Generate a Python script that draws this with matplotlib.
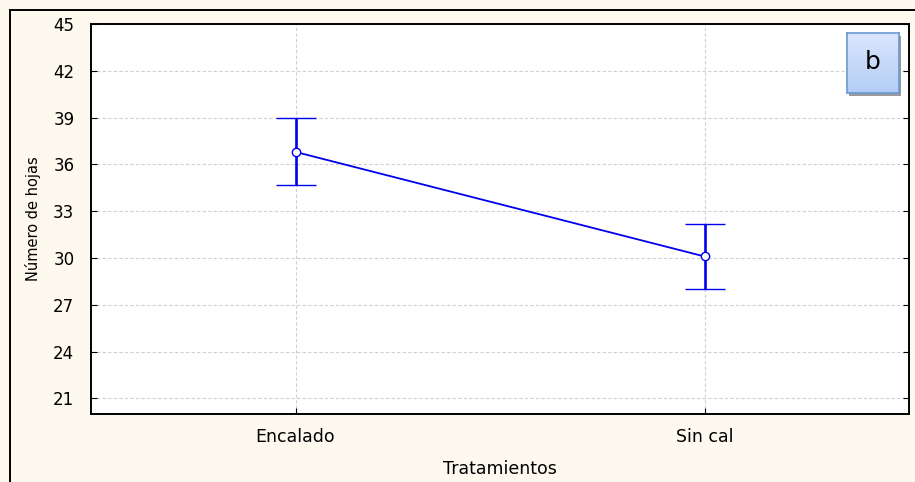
import numpy as np
import matplotlib.pyplot as plt
from matplotlib.patches import Rectangle
from matplotlib.colors import LinearSegmentedColormap

plt.rcParams['font.family'] = ['DejaVu Sans']

treatments = ["Encalado", "Sin cal"]
means = [36.8, 30.1]
upper = [38.95, 32.2]
lower = [34.7, 28.0]
yticks = [21, 24, 27, 30, 33, 36, 39, 42, 45]

x = np.arange(len(treatments))
err_low = [m - l for m, l in zip(means, lower)]
err_up = [u - m for m, u in zip(means, upper)]

fig = plt.figure(figsize=(9.15, 4.82), dpi=100)
fig.patch.set_facecolor("#fdf9ee")

# outer frame (only top and left edges visible in the picture)
fig.patches.append(Rectangle((10 / 915, -0.1), 1.2, 1 - 10 / 482 + 0.1,
                             transform=fig.transFigure, fill=False,
                             edgecolor="black", linewidth=1.4))

ax = fig.add_axes([91 / 915, 1 - 414 / 482, (909 - 91) / 915, (414 - 24) / 482])
ax.set_facecolor("white")
ax.errorbar(x, means, yerr=[err_low, err_up], color="#0000ee", linewidth=1.3,
            elinewidth=1.9, capsize=14.4, capthick=1.9, marker="o",
            markersize=6, markerfacecolor="white", markeredgecolor="#0000ee",
            markeredgewidth=1.0, zorder=3)

ax.set_xlim(-0.5, 1.5)
ax.set_ylim(20, 45)
ax.set_xticks(x)
ax.set_xticklabels(treatments)
ax.set_yticks(yticks)
ax.grid(True, color="#d0d0d0", linestyle=(0, (3, 2)), linewidth=0.8)
ax.tick_params(axis="x", direction="in", length=4, pad=10, labelsize=12.5)
ax.tick_params(axis="y", direction="in", length=4, labelsize=12,
               right=True, pad=12)
for s in ax.spines.values():
    s.set_linewidth(1.4)
ax.set_xlabel("Tratamientos", fontsize=12.5)
ax.xaxis.set_label_coords(0.5, -(469 - 414) / 390)
ax.xaxis.label.set_va("center")
ax.set_ylabel("Número de hojas", fontsize=10.5)
ax.yaxis.set_label_coords((33 - 91) / 818, 0.5)
ax.yaxis.label.set_va("center")

# label box "b"
shadow = fig.add_axes([849 / 915, 1 - 96 / 482, 52 / 915, 60 / 482])
shadow.set_facecolor("#9a9a9a")
shadow.set_xticks([])
shadow.set_yticks([])
for s in shadow.spines.values():
    s.set_visible(False)

box = fig.add_axes([847 / 915, 1 - 93 / 482, 52 / 915, 60 / 482])
grad = np.linspace(0, 1, 100).reshape(-1, 1)
cmap = LinearSegmentedColormap.from_list("bx", ["#dbe6fc", "#b2cdf6"])
box.imshow(grad, aspect="auto", cmap=cmap, extent=[0, 1, 0, 1], origin="upper")
box.set_xlim(0, 1)
box.set_ylim(0, 1)
box.set_xticks([])
box.set_yticks([])
for s in box.spines.values():
    s.set_edgecolor("#6a98d4")
    s.set_linewidth(1.2)
box.text(0.5, 0.52, "b", ha="center", va="center", fontsize=18,
         transform=box.transAxes)

fig.savefig("out.png", dpi=100, facecolor=fig.get_facecolor())
